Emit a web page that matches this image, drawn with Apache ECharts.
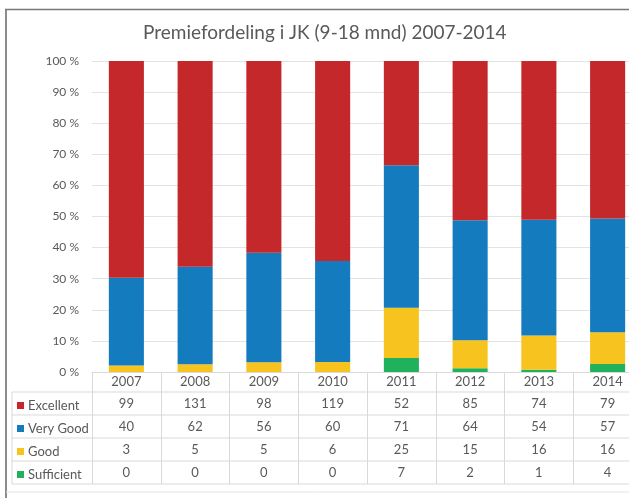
<!DOCTYPE html>
<html>
<head>
<meta charset="utf-8">
<script src="https://cdn.jsdelivr.net/npm/echarts@6/dist/echarts.min.js"></script>
<style>
  html, body { margin: 0; padding: 0; background: #fff; }
  #chart { width: 629px; height: 498px; }
</style>
</head>
<body>
<div id="chart"></div>
<script>
const years = ['2007', '2008', '2009', '2010', '2011', '2012', '2013', '2014']
const excellent = [99, 131, 98, 119, 52, 85, 74, 79]
const veryGood = [40, 62, 56, 60, 71, 64, 54, 57]
const good = [3, 5, 5, 6, 25, 15, 16, 16]
const sufficient = [0, 0, 0, 0, 7, 2, 1, 4]
const yTicks = [0, 10, 20, 30, 40, 50, 60, 70, 80, 90, 100]

const rows = [
  { name: 'Excellent', values: excellent, color: '#C4282A' },
  { name: 'Very Good', values: veryGood, color: '#157BBF' },
  { name: 'Good', values: good, color: '#F7C31F' },
  { name: 'Sufficient', values: sufficient, color: '#21B05C' }
]

// totals per year -> percentages for the 100% stack
const totals = years.map((y, i) => rows.reduce((s, r) => s + r.values[i], 0))
const pct = arr => arr.map((v, i) => v / totals[i] * 100)

const textColor = '#595959'
const lineColor = '#D9D9D9'
const font = 'Lato'

// one hidden axis per table row, just for the numbers
const tableAxes = rows.map((r, k) => ({
  type: 'category',
  data: years,
  position: 'bottom',
  axisLine: { show: false },
  axisTick: { show: false },
  axisLabel: {
    interval: 0,
    margin: 32 + k * 23,
    verticalAlign: 'middle',
    color: textColor,
    fontFamily: font,
    fontSize: 13,
    formatter: (v, i) => String(r.values[i])
  }
}))

// horizontal table lines
const hLines = [392, 415, 438, 461, 484].map(y => ({
  type: 'line',
  shape: { x1: 12, y1: y, x2: 629, y2: y },
  style: { stroke: lineColor, lineWidth: 1 }
}))

const option = {
  animation: false,
  title: {
    text: 'Premiefordeling i JK (9-18 mnd) 2007-2014',
    left: 138,
    top: 18,
    textStyle: { color: textColor, fontFamily: font, fontSize: 19, fontWeight: 'normal' }
  },
  legend: {
    data: rows.map(r => r.name),
    orient: 'vertical',
    left: 12,
    top: 394,
    icon: 'rect',
    itemWidth: 7,
    itemHeight: 7,
    itemGap: 10,
    selectedMode: false,
    textStyle: { color: textColor, fontFamily: font, fontSize: 13, padding: [0, 0, 0, -1] }
  },
  grid: { left: 92, width: 550, top: 61, bottom: 126, outerBoundsMode: 'none' },
  xAxis: [{
    type: 'category',
    data: years,
    position: 'bottom',
    axisLine: { show: true, lineStyle: { color: lineColor } },
    axisTick: { show: true, interval: 0, length: 112, lineStyle: { color: lineColor } },
    axisLabel: {
      interval: 0,
      margin: 10,
      verticalAlign: 'middle',
      color: textColor,
      fontFamily: font,
      fontSize: 13
    }
  }].concat(tableAxes),
  yAxis: {
    type: 'value',
    min: yTicks[0],
    max: yTicks[yTicks.length - 1],
    interval: 10,
    axisLine: { show: false },
    axisTick: { show: false },
    splitLine: { lineStyle: { color: '#E3E3E3' } },
    axisLabel: {
      margin: 13,
      color: textColor,
      fontFamily: font,
      fontSize: 12,
      formatter: '{value} %'
    }
  },
  graphic: [
    { type: 'line', shape: { x1: 6, y1: 9, x2: 6, y2: 498 }, style: { stroke: '#8C8C8C', lineWidth: 2 } },
    { type: 'line', shape: { x1: 5, y1: 9.5, x2: 629, y2: 9.5 }, style: { stroke: '#777', lineWidth: 1.5 } },
    { type: 'line', shape: { x1: 12, y1: 392, x2: 12, y2: 484 }, style: { stroke: lineColor, lineWidth: 1 } },
    { type: 'line', shape: { x1: 6, y1: 492, x2: 629, y2: 492 }, style: { stroke: '#E3E3E3', lineWidth: 1 } }
  ].concat(hLines),
  series: rows.slice().reverse().map(r => ({
    name: r.name,
    type: 'bar',
    stack: 'total',
    barWidth: '51%',
    itemStyle: { color: r.color },
    data: pct(r.values)
  }))
}

const chart = echarts.init(document.getElementById('chart'))
chart.setOption(option)
window.addEventListener('resize', chart.resize)
</script>
</body>
</html>
